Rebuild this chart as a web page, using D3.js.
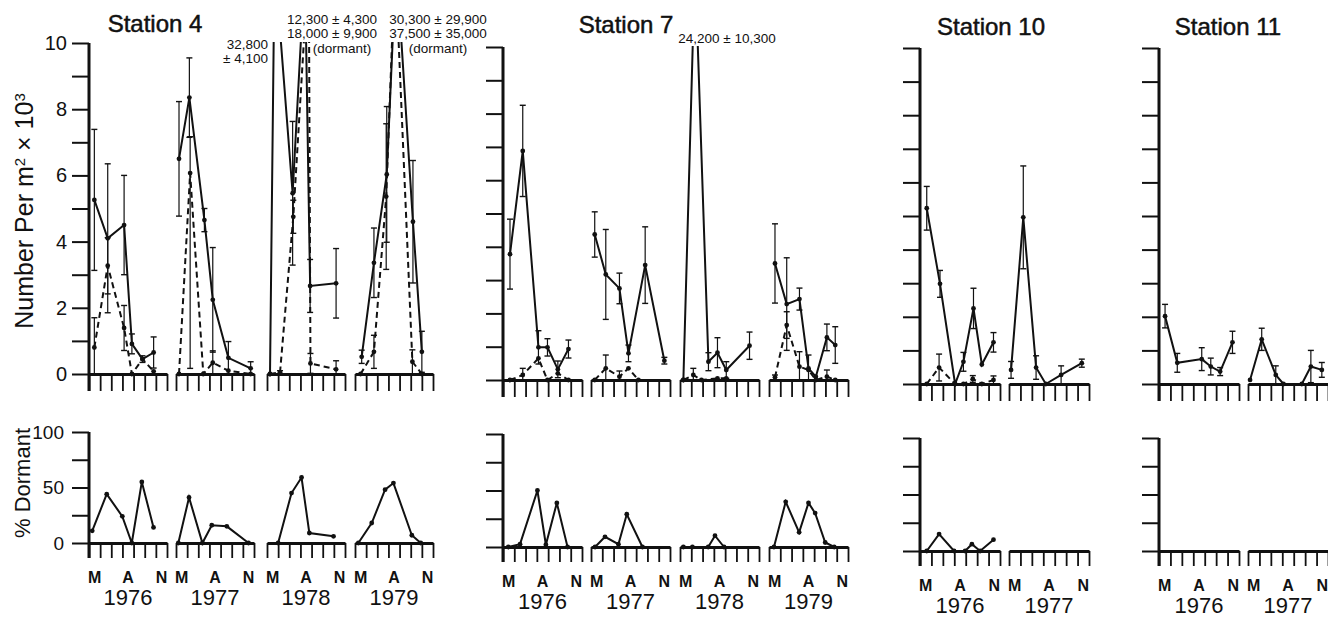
<!DOCTYPE html>
<html><head><meta charset="utf-8">
<script src="https://cdn.jsdelivr.net/npm/d3@7"></script>
<style>
body{margin:0;background:#fff}
svg{display:block}
text{font-family:"Liberation Sans",Arial,Helvetica,sans-serif;fill:#111}
</style>
</head><body><svg id="chart" width="1328" height="618"></svg>
<script>
// ---------------- DATA ----------------
const stationNames = ["Station 4", "Station 7", "Station 10", "Station 11"];
const yearsLong = [1976, 1977, 1978, 1979];
const yearsShort = [1976, 1977];
const monthLabels = ["M", "A", "N"];
const monthLabelPos = [0.5, 3.5, 6.5];
const topTickLabels = [0, 2, 4, 6, 8, 10];
const bottomTickLabels = [0, 50, 100];

// [month offset within May..Nov, number per m2 x 10^3, error]
const s4_1976_total = [[0.48,5.26,2.13],[1.68,4.10,2.25],[3.15,4.50,1.5],[3.85,0.91,0.3],[4.8,0.45,0.1],[5.8,0.65,0.47]];
const s4_1976_dorm  = [[0.48,0.80,0.9],[1.68,3.27,0.85],[3.15,1.39,0.68],[3.85,0,0],[4.8,0.45,0],[5.8,0.08,0]];
const s4_1977_total = [[0.27,6.5,1.73],[1.2,8.35,1.2],[2.55,4.65,0.35],[3.3,2.24,1.58],[4.7,0.49,0.49],[6.7,0.17,0.2]];
const s4_1977_dorm  = [[0.27,0,0],[1.27,6.07,[0.17,7.17]],[2.45,0,0],[3.3,0.34,0.36],[4.7,0.1,0],[6.7,0,0]];
const s4_1978_total = [[0.27,0,0],[0.68,32.8,0],[2.3,5.46,2.17],[3.4,12.3,0],[3.87,2.66,0.8],[6.2,2.74,1.05]];
const s4_1978_dorm  = [[0.27,0,0],[1.17,0.05,0.05],[2.36,4.75,0.5],[3.75,18.0,0],[3.9,0.32,0.3],[6.2,0.14,0.26]];
const s4_1979_total = [[0.6,0.52,0.2],[1.7,3.36,1.05],[2.85,6.03,2.05],[3.7,30.3,0],[5.2,4.6,1.85],[6.0,0.67,0.62]];
const s4_1979_dorm  = [[0.5,0,0],[1.7,0.67,0.5],[2.8,5.36,2.2],[3.6,37.5,0],[5.15,0.37,0.36],[6.0,0,0]];

const s7_1976_total = [[0.62,3.78,1.05],[1.75,6.88,1.37],[3.14,0.98,0.5],[3.94,0.98,0.26],[4.86,0.32,0.25],[5.8,0.93,0.27]];
const s7_1976_dorm  = [[0.62,0,0],[1.75,0.15,0.2],[3.14,0.65,0],[3.94,0,0],[4.86,0.2,0],[5.8,0,0]];
const s7_1977_total = [[0.33,4.37,0.68],[1.31,3.17,1.35],[2.52,2.75,0.46],[3.32,0.8,0.25],[4.8,3.45,1.15],[6.5,0.58,0.1]];
const s7_1977_dorm  = [[0.33,0,0],[1.31,0.35,0.4],[2.52,0.1,0.17],[3.32,0.35,0],[4.2,0,0]];
const s7_1978_total = [[0.3,0,0],[1.33,24.2,0],[2.52,0.55,0.27],[3.32,0.82,0.45],[4.1,0.3,0.25],[6.16,1.03,0.41]];
const s7_1978_dorm  = [[0.3,0,0],[1.18,0.15,0.2],[1.9,0,0],[3.32,0.05,0],[4.1,0.05,0]];
const s7_1979_total = [[0.53,3.5,1.19],[1.57,2.28,1.39],[2.7,2.43,0.33],[3.5,0.35,0.4],[4.15,0.1,0],[5.13,1.28,0.4],[5.87,1.05,0.55]];
const s7_1979_dorm  = [[0.53,0.08,0.07],[1.57,1.65,0.4],[2.7,0.4,0.45],[3.5,0.3,0],[4.15,0,0],[5.13,0.1,0.2],[5.87,0,0]];

const s10_1976_total = [[0.59,5.23,0.65],[1.75,2.98,0.4],[3.07,0,0],[3.8,0.66,0.28],[4.68,2.25,0.6],[5.41,0.58,0],[6.43,1.24,0.29]];
const s10_1976_dorm  = [[0.59,0,0],[1.67,0.49,0.4],[3.07,0,0],[3.8,0,0],[4.62,0.15,0.1],[5.41,0,0],[6.43,0.12,0.12]];
const s10_1977_total = [[0.18,0.42,0.25],[1.25,4.96,1.53],[2.37,0.49,0.35],[3.22,0,0],[4.56,0.27,0.27],[6.37,0.62,0.12]];
const s10_1977_dorm  = [];

const s11_1976_total = [[0.53,2.02,0.35],[1.6,0.63,0.28],[3.74,0.74,0.34],[4.53,0.52,0.25],[5.35,0.37,0.12],[6.43,1.24,0.33]];
const s11_1977_total = [[0.18,0.12,0],[1.2,1.33,0.33],[2.43,0.27,0.27],[3.1,0,0],[4.71,0,0],[5.5,0.52,0.48],[6.46,0.42,0.22]];
const s11_1976_dorm = [];
const s11_1977_dorm = [];

// % dormant: [month offset, percent]
const s4_1976_pct = [[0.29,11],[1.59,44],[2.99,24],[3.84,0],[4.74,55],[5.79,14]];
const s4_1977_pct = [[0.21,0],[1.17,41],[2.37,0],[3.21,16],[4.56,15],[6.51,0]];
const s4_1978_pct = [[1.0,0],[2.2,45],[3.1,59],[3.8,9],[5.97,6]];
const s4_1979_pct = [[0.3,0],[1.5,18],[2.7,48],[3.45,54],[5.1,7],[5.9,0]];
const s7_1976_pct = [[0.47,0],[1.51,2.5],[3.05,50],[3.8,2],[4.77,39],[5.72,0]];
const s7_1977_pct = [[0.36,0],[1.24,9],[2.43,2.5],[3.17,29],[4.56,0]];
const s7_1978_pct = [[0.3,0],[1.1,0],[2.5,0],[3.1,10],[3.9,0]];
const s7_1979_pct = [[0.44,0],[1.48,40],[2.67,13],[3.5,39],[4.09,30],[4.98,4],[5.78,0]];
const s10_1976_pct = [[0.59,0],[1.67,15],[2.98,0],[3.95,0],[4.54,6],[5.26,0],[6.43,10]];
const s10_1977_pct = [];
const s11_1976_pct = [];
const s11_1977_pct = [];

const offScaleNotes = ["32,800", "± 4,100", "12,300 ± 4,300", "18,000 ± 9,900", "(dormant)",
                       "30,300 ± 29,900", "37,500 ± 35,000", "(dormant)", "24,200 ± 10,300"];

// ---------------- TABLE ----------------
const stations = [
  {name: stationNames[0], years: yearsLong,
   total: [s4_1976_total, s4_1977_total, s4_1978_total, s4_1979_total],
   dorm: [s4_1976_dorm, s4_1977_dorm, s4_1978_dorm, s4_1979_dorm],
   pct: [s4_1976_pct, s4_1977_pct, s4_1978_pct, s4_1979_pct]},
  {name: stationNames[1], years: yearsLong,
   total: [s7_1976_total, s7_1977_total, s7_1978_total, s7_1979_total],
   dorm: [s7_1976_dorm, s7_1977_dorm, s7_1978_dorm, s7_1979_dorm],
   pct: [s7_1976_pct, s7_1977_pct, s7_1978_pct, s7_1979_pct]},
  {name: stationNames[2], years: yearsShort,
   total: [s10_1976_total, s10_1977_total], dorm: [s10_1976_dorm, s10_1977_dorm],
   pct: [s10_1976_pct, s10_1977_pct]},
  {name: stationNames[3], years: yearsShort,
   total: [s11_1976_total, s11_1977_total], dorm: [s11_1976_dorm, s11_1977_dorm],
   pct: [s11_1976_pct, s11_1977_pct]}
];

// ---------------- LAYOUT ----------------
const layout = [
  {segStarts:[89,176,267,355], segW:78, top:[374,43], bot:[543,432], title:[155,32], labels:true},
  {segStarts:[503,591,680,769], segW:79, top:[380,47], bot:[547,434], title:[626,33], labels:false},
  {segStarts:[920,1009], segW:80, top:[384,48], bot:[551,438], title:[991,35], labels:false},
  {segStarts:[1159,1248], segW:80, top:[384,48], bot:[551,438], title:[1228,35], labels:false}
];
const notePos = [
  [268,49,"end"],[268,63,"end"],[332,24,"middle"],[332,38,"middle"],[342,53,"middle"],
  [438,24,"middle"],[438,38,"middle"],[438,53,"middle"],[727,43,"middle"]
];
const CAP = 12.5;     // drawing height for off-scale values (lines exit the top)
const ink = "#111";

const svg = d3.select("#chart");

// y-axis titles
const yt = svg.append("text").attr("transform","translate(33,211) rotate(-90)")
  .attr("text-anchor","middle").style("font-size","25px");
yt.append("tspan").text("Number Per m");
yt.append("tspan").attr("baseline-shift","super").style("font-size","15px").text("2");
yt.append("tspan").text(" × 10");
yt.append("tspan").attr("baseline-shift","super").style("font-size","15px").text("3");
svg.append("text").attr("transform","translate(30,483) rotate(-90)")
  .attr("text-anchor","middle").style("font-size","22px").text("% Dormant");

function errBounds(d){
  const e = d[2];
  if (Array.isArray(e)) return e;
  if (!e) return null;
  return [Math.max(0, d[1]-e), d[1]+e];
}

stations.forEach((st, si) => {
  const L = layout[si];
  const axisX = L.segStarts[0];
  const yT = d3.scaleLinear().domain([0,10]).range(L.top);
  const yB = d3.scaleLinear().domain([0,100]).range(L.bot);
  const g = svg.append("g");

  // title
  g.append("text").attr("x",L.title[0]).attr("y",L.title[1]).attr("text-anchor","middle")
    .style("font-size","24px").style("stroke",ink).style("stroke-width","0.5px").text(st.name);

  // clip for top panel (values above the axis leave the frame)
  const clipId = "clip" + si;
  svg.append("clipPath").attr("id",clipId).append("rect")
    .attr("x",0).attr("y",L.top[1]-1).attr("width",1328).attr("height",618);

  // top y axis
  const ayT = d3.axisLeft(yT).tickValues(d3.range(0,11)).tickSize(17).tickSizeOuter(0)
    .tickPadding(5).tickFormat(d => (L.labels && topTickLabels.includes(d)) ? d : "");
  const gyT = g.append("g").attr("transform",`translate(${axisX},0)`).call(ayT);
  gyT.select(".domain").remove();
  gyT.selectAll(".tick line").attr("stroke",ink).attr("stroke-width",2);
  gyT.selectAll(".tick text").style("font-size","20px").attr("fill",ink).attr("font-family",null);
  g.append("line").attr("x1",axisX).attr("x2",axisX).attr("y1",L.top[1]).attr("y2",L.top[0]+17)
    .attr("stroke",ink).attr("stroke-width",3);

  // bottom y axis
  const ayB = d3.axisLeft(yB).tickValues([0,25,50,75,100]).tickSize(17).tickSizeOuter(0)
    .tickPadding(8).tickFormat(d => (L.labels && bottomTickLabels.includes(d)) ? d : "");
  const gyB = g.append("g").attr("transform",`translate(${axisX},0)`).call(ayB);
  gyB.select(".domain").remove();
  gyB.selectAll(".tick line").attr("stroke",ink).attr("stroke-width",2);
  gyB.selectAll(".tick text").style("font-size","19px").attr("fill",ink).attr("font-family",null);
  g.append("line").attr("x1",axisX).attr("x2",axisX).attr("y1",L.bot[1]).attr("y2",L.bot[0]+15)
    .attr("stroke",ink).attr("stroke-width",3);

  st.years.forEach((yr, yi) => {
    const x0 = L.segStarts[yi];
    const x = d3.scaleLinear().domain([0,7]).range([x0, x0 + L.segW]);

    // x axes (top and bottom)
    [[L.top[0],17],[L.bot[0],15]].forEach(([by,tl]) => {
      const ax = d3.axisBottom(x).tickValues(d3.range(0,8)).tickSize(tl).tickSizeOuter(0).tickFormat("");
      const gx = g.append("g").attr("transform",`translate(0,${by})`).call(ax);
      gx.select(".domain").attr("stroke",ink).attr("stroke-width",3);
      gx.selectAll(".tick line").attr("stroke",ink).attr("stroke-width",1.8);
    });

    // month + year labels
    monthLabels.forEach((m, mi) => {
      g.append("text").attr("x",x(monthLabelPos[mi])).attr("y",L.bot[0]+40)
        .attr("text-anchor","middle").style("font-size","16px").style("font-weight","bold").text(m);
    });
    g.append("text").attr("x",x(3.5)).attr("y",L.bot[0]+62).attr("text-anchor","middle")
      .style("font-size","22px").text(yr);

    // top panel series
    const gp = g.append("g").attr("clip-path",`url(#${clipId})`);
    const line = d3.line().x(d => x(d[0])).y(d => yT(Math.min(d[1], CAP)));
    [[st.total[yi], null],[st.dorm[yi], "6,4"]].forEach(([ser, dash]) => {
      if (!ser || !ser.length) return;
      // error bars
      ser.forEach(d => {
        const b = errBounds(d);
        if (!b) return;
        const cx = x(d[0]);
        gp.append("line").attr("x1",cx).attr("x2",cx).attr("y1",yT(b[0])).attr("y2",yT(b[1]))
          .attr("stroke",ink).attr("stroke-width",1.2);
        b.forEach(v => {
          if (v <= 0.02) return;
          gp.append("line").attr("x1",cx-3).attr("x2",cx+3).attr("y1",yT(v)).attr("y2",yT(v))
            .attr("stroke",ink).attr("stroke-width",1.4);
        });
      });
      gp.append("path").datum(ser).attr("d",line).attr("fill","none").attr("stroke",ink)
        .attr("stroke-width",2).attr("stroke-dasharray",dash);
      gp.selectAll(null).data(ser.filter(d => d[1] <= 10)).enter().append("circle")
        .attr("cx",d => x(d[0])).attr("cy",d => yT(d[1])).attr("r",2.4).attr("fill",ink);
    });

    // bottom panel: % dormant
    const pct = st.pct[yi];
    if (pct && pct.length) {
      const pl = d3.line().x(d => x(d[0])).y(d => yB(d[1]));
      g.append("path").datum(pct).attr("d",pl).attr("fill","none").attr("stroke",ink).attr("stroke-width",2);
      g.selectAll(null).data(pct).enter().append("circle")
        .attr("cx",d => x(d[0])).attr("cy",d => yB(d[1])).attr("r",2.4).attr("fill",ink);
    }
  });
});

// off-scale value notes
offScaleNotes.forEach((t, i) => {
  svg.append("text").attr("x",notePos[i][0]).attr("y",notePos[i][1]).attr("text-anchor",notePos[i][2])
    .style("font-size","13.5px").text(t);
});
</script></body></html>
